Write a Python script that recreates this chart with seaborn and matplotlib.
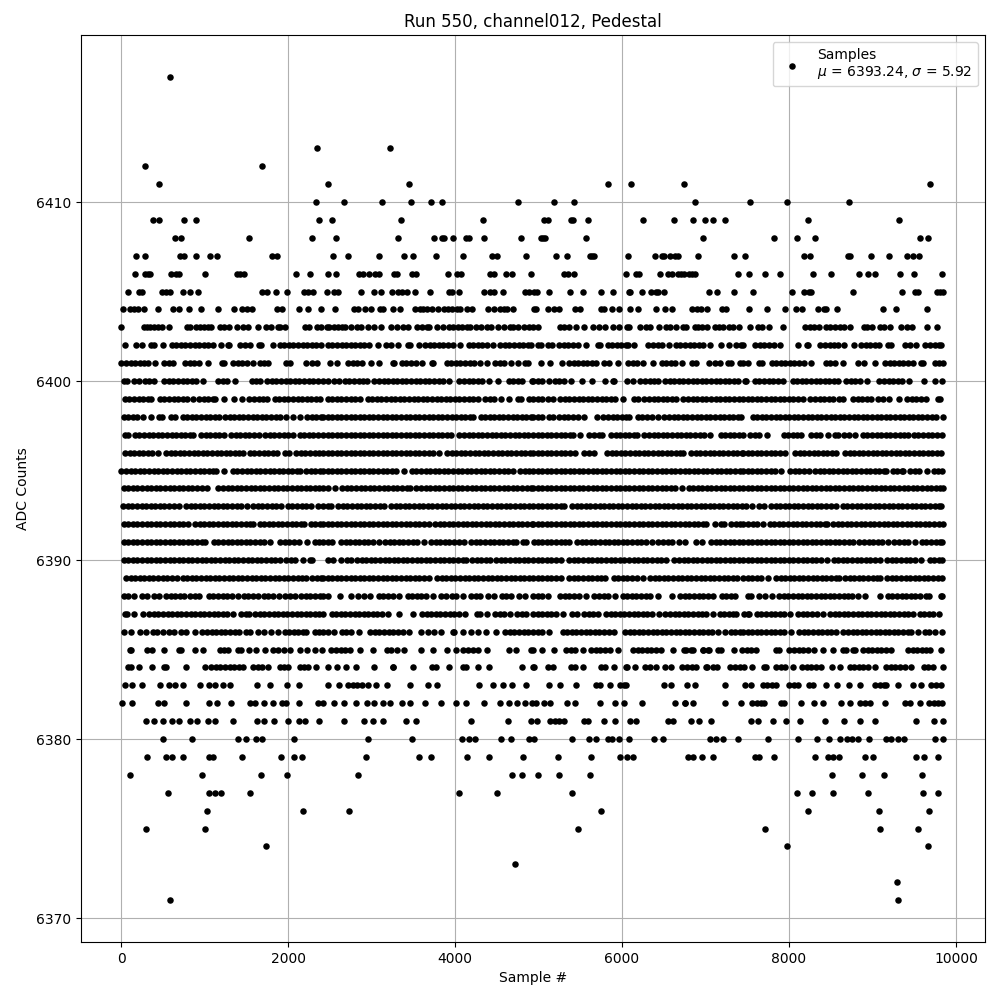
import pandas as pd
import seaborn as sns
import matplotlib.pyplot as plt

# Sample numbers, one list per ADC level
samples_6417 = [581]
samples_6413 = [2345, 3221]
samples_6412 = [281, 1685]
samples_6411 = [449, 2477, 3453, 5829, 6105, 6741, 9687]
samples_6410 = [2333, 2669, 3125, 3477, 3717, 3849, 4749, 5181, 5421, 6870, 7527, 7971, 8715]
samples_6409 = [377, 449, 749, 893, 2369, 2525, 3355, 4329, 5061, 5109, 5385, 5409, 5589, 6249, 6621, 6846, 6990, 7095, 7239, 8223, 9315]
samples_6408 = [641, 713, 1529, 2285, 2573, 3313, 3753, 3849, 3873, 3981, 4137, 4161, 4341, 4785, 5025, 5049, 5073, 5565, 6966, 7815, 8091, 8307, 9567, 9663]
samples_6407 = [173, 281, 701, 749, 893, 1061, 1145, 1805, 1865, 2537, 2717, 3089, 3393, 3501, 3777, 4101, 4437, 4497, 4845, 5205, 5337, 5613, 5637, 5661, 6069, 6393, 6477, 6501, 6573, 6633, 6669, 6906, 7335, 7467, 8175, 8247, 8703, 8727, 8979, 9195, 9411, 9483, 9555]
samples_6406 = [161, 281, 321, 345, 593, 653, 689, 1001, 1385, 1429, 1469, 2093, 2261, 2477, 2573, 2849, 2897, 2969, 3041, 3089, 3265, 3305, 3481, 3533, 3921, 4029, 4077, 4413, 4461, 4605, 4677, 4905, 5301, 5349, 5421, 6045, 6165, 6201, 6453, 6549, 6597, 6669, 6709, 6741, 6801, 6841, 6873, 7383, 7515, 7707, 7887, 8283, 8499, 8835, 8943, 9027, 9327, 9495, 9831]
samples_6405 = [77, 209, 249, 485, 541, 581, 737, 821, 917, 1685, 1745, 1853, 1985, 2189, 2241, 2301, 2465, 2549, 2597, 2873, 3029, 3109, 3245, 3321, 3361, 3429, 3525, 3705, 3933, 3969, 4053, 4341, 4421, 4469, 4569, 4833, 4881, 4941, 4981, 5121, 5373, 5529, 5745, 5889, 6081, 6101, 6237, 6345, 6405, 6429, 6501, 7044, 7143, 7335, 7563, 8031, 8175, 8235, 8259, 8763, 9351, 9507, 9543, 9771, 9807, 9840]
samples_6404 = [29, 109, 149, 197, 269, 437, 617, 689, 809, 953, 1157, 1349, 1445, 1509, 1565, 1865, 1925, 2129, 2233, 2393, 2561, 2789, 2841, 2921, 2993, 3101, 3141, 3253, 3345, 3521, 3581, 3621, 3669, 3721, 3801, 3873, 3921, 3961, 4021, 4061, 4149, 4197, 4389, 4461, 4533, 4581, 4621, 4689, 4941, 4969, 5109, 5189, 5241, 5433, 5493, 5745, 5781, 5877, 5961, 6093, 6189, 6405, 6513, 6597, 6843, 6895, 6943, 7023, 7203, 7243, 7515, 7731, 7947, 8079, 8151, 8343, 8415, 8443, 8571, 9123, 9279, 9651]
samples_6403 = [5, 269, 309, 349, 389, 437, 485, 569, 785, 829, 893, 941, 989, 1037, 1077, 1181, 1229, 1289, 1385, 1457, 1517, 1637, 1733, 1797, 1877, 1901, 1969, 2201, 2249, 2345, 2397, 2461, 2489, 2549, 2597, 2649, 2677, 2753, 2825, 2869, 2957, 3029, 3113, 3237, 3309, 3373, 3441, 3549, 3601, 3661, 3693, 3789, 3861, 3933, 3981, 4041, 4081, 4141, 4181, 4253, 4309, 4381, 4433, 4509, 4581, 4653, 4689, 4757, 4829, 4881, 4929, 4989, 5253, 5301, 5369, 5445, 5541, 5649, 5721, 5793, 5889, 5961, 6057, 6081, 6213, 6281, 6333, 6441, 6525, 6573, 6645, 6735, 6769, 6875, 6915, 6955, 7023, 7115, 7167, 7215, 7275, 7327, 7395, 7527, 7627, 7675, 7759, 7923, 8187, 8255, 8295, 8355, 8443, 8495, 8555, 8615, 8655, 8735, 8895, 8935, 8991, 9087, 9135, 9207, 9343, 9415, 9475, 9651, 9775]
samples_6402 = [52, 180, 256, 358, 398, 500, 606, 660, 715, 770, 825, 880, 935, 990, 1045, 1098, 1192, 1278, 1298, 1430, 1485, 1546, 1646, 1678, 1816, 1898, 1955, 2010, 2065, 2120, 2175, 2230, 2285, 2340, 2395, 2473, 2530, 2585, 2640, 2695, 2750, 2805, 2860, 2915, 2970, 3073, 3173, 3230, 3321, 3441, 3461, 3563, 3641, 3695, 3750, 3805, 3860, 3915, 3970, 4061, 4161, 4215, 4270, 4325, 4380, 4453, 4541, 4595, 4650, 4705, 4760, 4815, 4870, 4913, 4988, 5028, 5116, 5160, 5248, 5300, 5355, 5410, 5468, 5574, 5708, 5736, 5828, 5880, 5935, 5990, 6045, 6068, 6142, 6316, 6370, 6425, 6480, 6560, 6648, 6700, 6755, 6810, 6865, 6920, 6975, 7056, 7190, 7278, 7368, 7420, 7448, 7591, 7650, 7705, 7760, 7815, 7891, 8113, 8215, 8227, 8375, 8430, 8485, 8540, 8583, 8657, 8781, 8863, 8920, 8975, 9030, 9075, 9183, 9223, 9391, 9445, 9523, 9631, 9690, 9745, 9800, 9823]
samples_6401 = [5, 60, 115, 170, 225, 280, 318, 408, 518, 570, 626, 766, 820, 875, 930, 1036, 1206, 1238, 1338, 1395, 1450, 1505, 1578, 1658, 1712, 1758, 1978, 2018, 2216, 2288, 2344, 2503, 2583, 2721, 2775, 2830, 2885, 2995, 3095, 3261, 3273, 3361, 3415, 3470, 3533, 3603, 3721, 3741, 3901, 3955, 4010, 4065, 4120, 4175, 4230, 4301, 4383, 4481, 4535, 4590, 4673, 4755, 4833, 4873, 5028, 5138, 5278, 5368, 5420, 5475, 5530, 5585, 5640, 5688, 5780, 5848, 5946, 6076, 6130, 6185, 6256, 6370, 6476, 6530, 6585, 6640, 6720, 6840, 6888, 7038, 7110, 7170, 7268, 7308, 7408, 7448, 7503, 7635, 7675, 7791, 7845, 7900, 7955, 8010, 8065, 8120, 8175, 8263, 8443, 8495, 8550, 8643, 8823, 8903, 9033, 9151, 9205, 9260, 9315, 9370, 9425, 9483, 9583, 9603, 9751, 9800, 9840]
samples_6400 = [38, 66, 158, 210, 286, 340, 398, 518, 572, 627, 682, 737, 792, 847, 902, 978, 1158, 1215, 1270, 1370, 1566, 1620, 1658, 1750, 1805, 1860, 1915, 1970, 2025, 2080, 2135, 2190, 2245, 2300, 2355, 2418, 2473, 2545, 2605, 2681, 2735, 2790, 2845, 2900, 2941, 3033, 3088, 3143, 3198, 3253, 3308, 3363, 3418, 3473, 3528, 3583, 3638, 3693, 3748, 3803, 3858, 3925, 4053, 4108, 4163, 4218, 4273, 4328, 4401, 4511, 4641, 4696, 4751, 4805, 4921, 4933, 4988, 5043, 5120, 5196, 5250, 5305, 5388, 5518, 5646, 5798, 5888, 5908, 6060, 6128, 6220, 6275, 6330, 6385, 6428, 6516, 6570, 6625, 6680, 6735, 6790, 6845, 6900, 6955, 7010, 7065, 7120, 7175, 7230, 7285, 7340, 7388, 7470, 7483, 7591, 7645, 7700, 7755, 7810, 7865, 7931, 8043, 8098, 8153, 8208, 8263, 8318, 8373, 8428, 8483, 8538, 8583, 8683, 8738, 8793, 8848, 8931, 9083, 9138, 9193, 9248, 9303, 9358, 9431, 9613, 9753, 9830]
samples_6399 = [46, 100, 155, 210, 265, 320, 358, 466, 520, 575, 630, 685, 740, 795, 858, 938, 992, 1047, 1102, 1130, 1236, 1358, 1450, 1538, 1592, 1647, 1702, 1746, 1838, 1893, 1948, 2003, 2058, 2113, 2168, 2223, 2278, 2333, 2386, 2473, 2528, 2583, 2638, 2693, 2748, 2803, 2861, 2953, 3008, 3063, 3118, 3173, 3228, 3283, 3338, 3393, 3448, 3503, 3558, 3613, 3668, 3723, 3778, 3833, 3888, 3943, 3998, 4053, 4108, 4163, 4218, 4273, 4361, 4416, 4471, 4553, 4651, 4753, 4793, 4885, 4933, 4988, 5043, 5108, 5178, 5260, 5315, 5370, 5425, 5480, 5535, 5590, 5645, 5700, 5755, 5810, 5865, 5920, 6008, 6140, 6188, 6268, 6323, 6378, 6433, 6488, 6543, 6598, 6648, 6736, 6791, 6846, 6901, 6956, 7011, 7066, 7121, 7176, 7231, 7286, 7341, 7396, 7448, 7503, 7558, 7613, 7668, 7723, 7778, 7833, 7888, 7943, 7998, 8053, 8108, 8163, 8255, 8310, 8365, 8420, 8475, 8531, 8603, 8643, 8767, 8822, 8877, 8932, 8979, 9071, 9126, 9203, 9313, 9415, 9470, 9525, 9580, 9643, 9783, 9803]
samples_6398 = [30, 85, 140, 195, 258, 360, 458, 490, 598, 650, 738, 793, 848, 903, 958, 1013, 1068, 1123, 1170, 1246, 1301, 1356, 1411, 1466, 1521, 1576, 1631, 1686, 1741, 1796, 1851, 1906, 1978, 2058, 2138, 2226, 2281, 2336, 2391, 2418, 2473, 2528, 2583, 2638, 2693, 2748, 2803, 2858, 2913, 2968, 3023, 3078, 3133, 3188, 3243, 3298, 3353, 3408, 3463, 3518, 3573, 3628, 3683, 3738, 3793, 3848, 3903, 3958, 4013, 4068, 4123, 4178, 4213, 4305, 4360, 4415, 4470, 4525, 4580, 4635, 4690, 4745, 4800, 4855, 4910, 4933, 4988, 5040, 5120, 5168, 5248, 5303, 5358, 5413, 5468, 5540, 5706, 5776, 5831, 5886, 5941, 5996, 6051, 6080, 6188, 6243, 6298, 6353, 6428, 6508, 6563, 6618, 6673, 6728, 6783, 6838, 6893, 6948, 7003, 7058, 7113, 7168, 7223, 7278, 7333, 7388, 7428, 7563, 7618, 7673, 7728, 7783, 7838, 7893, 7948, 8003, 8058, 8113, 8168, 8223, 8278, 8333, 8388, 8443, 8498, 8553, 8608, 8663, 8718, 8773, 8828, 8883, 8938, 8993, 9048, 9103, 9158, 9213, 9268, 9323, 9378, 9433, 9488, 9543, 9598, 9653, 9708, 9755, 9838]
samples_6397 = [46, 78, 166, 220, 275, 330, 385, 440, 495, 550, 605, 660, 715, 770, 825, 858, 958, 1013, 1068, 1123, 1178, 1238, 1318, 1373, 1428, 1483, 1538, 1593, 1650, 1726, 1781, 1836, 1891, 1946, 2001, 2058, 2138, 2193, 2248, 2303, 2358, 2418, 2473, 2528, 2583, 2638, 2693, 2748, 2803, 2858, 2913, 2968, 3023, 3078, 3133, 3188, 3243, 3298, 3353, 3408, 3463, 3518, 3573, 3628, 3683, 3738, 3793, 3848, 3903, 3953, 4053, 4108, 4163, 4218, 4273, 4328, 4383, 4438, 4493, 4548, 4603, 4658, 4713, 4768, 4823, 4878, 4933, 4988, 5043, 5098, 5153, 5208, 5263, 5318, 5373, 5416, 5502, 5608, 5663, 5718, 5756, 5868, 5923, 5978, 6033, 6088, 6143, 6176, 6268, 6323, 6378, 6433, 6488, 6543, 6598, 6653, 6708, 6763, 6818, 6873, 6928, 6983, 7048, 7180, 7235, 7290, 7345, 7400, 7448, 7535, 7590, 7645, 7731, 7935, 7990, 8045, 8100, 8143, 8263, 8318, 8373, 8463, 8551, 8583, 8663, 8718, 8795, 8883, 8938, 8993, 9048, 9103, 9158, 9213, 9268, 9323, 9378, 9423, 9495, 9550, 9605, 9660, 9715, 9770, 9835]
samples_6396 = [46, 101, 156, 211, 266, 321, 376, 446, 538, 593, 648, 703, 758, 813, 868, 923, 978, 1033, 1088, 1143, 1198, 1253, 1308, 1363, 1418, 1458, 1542, 1597, 1652, 1707, 1762, 1817, 1872, 1958, 2016, 2098, 2153, 2208, 2263, 2318, 2373, 2418, 2473, 2528, 2583, 2638, 2693, 2748, 2803, 2858, 2913, 2968, 3023, 3078, 3133, 3188, 3243, 3298, 3353, 3408, 3463, 3518, 3573, 3628, 3683, 3738, 3805, 3905, 3960, 4015, 4070, 4125, 4180, 4235, 4290, 4345, 4400, 4455, 4510, 4565, 4620, 4675, 4730, 4785, 4840, 4895, 4933, 4988, 5043, 5098, 5153, 5208, 5263, 5318, 5373, 5440, 5548, 5603, 5668, 5820, 5875, 5930, 5985, 6040, 6095, 6150, 6205, 6260, 6315, 6370, 6425, 6480, 6535, 6590, 6645, 6700, 6736, 6828, 6883, 6938, 6993, 7048, 7103, 7158, 7213, 7268, 7323, 7378, 7433, 7448, 7503, 7558, 7613, 7668, 7723, 7778, 7833, 7888, 7955, 8075, 8130, 8185, 8240, 8295, 8350, 8405, 8460, 8515, 8563, 8671, 8726, 8781, 8836, 8891, 8946, 9001, 9056, 9111, 9166, 9221, 9276, 9331, 9386, 9441, 9496, 9551, 9606, 9661, 9716, 9771, 9826]
samples_6395 = [5, 60, 115, 170, 225, 280, 335, 390, 445, 500, 555, 610, 665, 720, 775, 830, 885, 940, 995, 1050, 1105, 1138, 1228, 1338, 1393, 1448, 1503, 1558, 1613, 1668, 1723, 1778, 1833, 1888, 1943, 1998, 2053, 2108, 2138, 2218, 2273, 2328, 2383, 2418, 2473, 2528, 2583, 2638, 2693, 2748, 2803, 2858, 2913, 2968, 3023, 3078, 3133, 3188, 3243, 3298, 3393, 3481, 3536, 3591, 3646, 3701, 3756, 3811, 3866, 3921, 3976, 4031, 4086, 4141, 4196, 4251, 4306, 4361, 4416, 4471, 4526, 4581, 4636, 4693, 4781, 4836, 4891, 4933, 4988, 5043, 5098, 5153, 5208, 5263, 5318, 5373, 5428, 5483, 5538, 5593, 5648, 5703, 5758, 5813, 5868, 5923, 5978, 6033, 6088, 6143, 6198, 6253, 6308, 6363, 6418, 6473, 6528, 6583, 6638, 6693, 6748, 6803, 6858, 6913, 6968, 7023, 7078, 7133, 7188, 7243, 7298, 7353, 7408, 7448, 7503, 7558, 7613, 7668, 7723, 7778, 7833, 7903, 8011, 8066, 8121, 8176, 8235, 8311, 8366, 8421, 8476, 8531, 8586, 8641, 8696, 8751, 8806, 8861, 8916, 8971, 9026, 9081, 9136, 9163, 9243, 9298, 9353, 9363, 9451, 9506, 9561, 9651, 9731, 9786, 9831]
samples_6394 = [30, 85, 140, 195, 250, 305, 360, 415, 470, 525, 580, 635, 690, 745, 800, 855, 910, 965, 1026, 1166, 1221, 1276, 1331, 1386, 1441, 1496, 1551, 1606, 1661, 1716, 1771, 1826, 1881, 1936, 1991, 2046, 2101, 2156, 2211, 2266, 2321, 2376, 2418, 2473, 2565, 2649, 2704, 2759, 2814, 2869, 2924, 2979, 3034, 3089, 3144, 3199, 3254, 3309, 3364, 3419, 3461, 3537, 3592, 3647, 3702, 3757, 3812, 3867, 3922, 3977, 4032, 4087, 4142, 4197, 4252, 4307, 4362, 4417, 4472, 4527, 4582, 4637, 4692, 4747, 4802, 4857, 4912, 4933, 4988, 5043, 5098, 5153, 5208, 5263, 5318, 5373, 5428, 5483, 5538, 5593, 5648, 5703, 5758, 5813, 5868, 5923, 5978, 6033, 6088, 6143, 6198, 6248, 6308, 6363, 6418, 6473, 6528, 6583, 6638, 6716, 6796, 6851, 6906, 6961, 7016, 7071, 7126, 7181, 7236, 7291, 7346, 7401, 7448, 7503, 7558, 7613, 7668, 7723, 7778, 7833, 7888, 7943, 7998, 8053, 8108, 8163, 8218, 8273, 8328, 8383, 8438, 8493, 8548, 8603, 8658, 8713, 8768, 8823, 8878, 8933, 8988, 9043, 9098, 9153, 9208, 9263, 9318, 9373, 9428, 9483, 9538, 9593, 9648, 9703, 9758, 9813, 9840]
samples_6393 = [25, 80, 135, 190, 245, 300, 355, 410, 465, 520, 575, 630, 698, 778, 833, 888, 943, 998, 1053, 1108, 1163, 1218, 1273, 1328, 1383, 1438, 1506, 1582, 1637, 1692, 1747, 1802, 1857, 1918, 1998, 2053, 2108, 2163, 2218, 2278, 2358, 2418, 2473, 2513, 2601, 2656, 2711, 2766, 2821, 2876, 2931, 2986, 3041, 3096, 3145, 3233, 3288, 3343, 3398, 3453, 3508, 3563, 3618, 3673, 3728, 3783, 3838, 3893, 3948, 4003, 4058, 4113, 4168, 4223, 4278, 4333, 4388, 4443, 4498, 4553, 4608, 4663, 4718, 4773, 4828, 4883, 4933, 4988, 5043, 5098, 5153, 5208, 5263, 5308, 5400, 5455, 5510, 5565, 5620, 5675, 5730, 5785, 5840, 5895, 5950, 6005, 6060, 6115, 6170, 6225, 6280, 6335, 6390, 6445, 6500, 6555, 6610, 6665, 6720, 6775, 6830, 6885, 6940, 6995, 7050, 7105, 7160, 7215, 7270, 7325, 7380, 7435, 7485, 7553, 7643, 7703, 7783, 7838, 7893, 7948, 8003, 8058, 8113, 8168, 8223, 8278, 8333, 8388, 8443, 8498, 8563, 8643, 8698, 8753, 8808, 8863, 8918, 8973, 9028, 9083, 9138, 9193, 9248, 9303, 9358, 9413, 9468, 9523, 9578, 9633, 9688, 9743, 9798, 9815]
samples_6392 = [30, 85, 140, 195, 250, 305, 360, 415, 470, 525, 580, 635, 690, 745, 798, 886, 941, 996, 1051, 1106, 1161, 1216, 1271, 1326, 1381, 1436, 1491, 1546, 1578, 1658, 1713, 1768, 1823, 1878, 1933, 1988, 2043, 2098, 2153, 2190, 2270, 2325, 2380, 2418, 2473, 2528, 2583, 2638, 2693, 2748, 2803, 2858, 2913, 2968, 3023, 3078, 3133, 3188, 3243, 3298, 3353, 3408, 3463, 3518, 3573, 3628, 3685, 3761, 3816, 3871, 3926, 3981, 4036, 4091, 4146, 4201, 4256, 4311, 4366, 4421, 4476, 4531, 4586, 4641, 4696, 4751, 4806, 4861, 4916, 4933, 4988, 5043, 5098, 5153, 5208, 5263, 5318, 5373, 5428, 5483, 5538, 5593, 5648, 5703, 5758, 5813, 5868, 5923, 5978, 6033, 6088, 6143, 6198, 6253, 6308, 6363, 6418, 6473, 6528, 6583, 6638, 6693, 6748, 6803, 6858, 6913, 6968, 7008, 7110, 7188, 7216, 7308, 7363, 7418, 7448, 7503, 7563, 7618, 7691, 7767, 7822, 7877, 7932, 7987, 8042, 8097, 8152, 8207, 8262, 8317, 8372, 8427, 8451, 8527, 8582, 8637, 8692, 8747, 8802, 8857, 8912, 8967, 9022, 9077, 9132, 9187, 9242, 9297, 9352, 9407, 9462, 9517, 9572, 9627, 9682, 9737, 9792, 9840]
samples_6391 = [30, 85, 140, 195, 250, 305, 360, 415, 470, 525, 580, 635, 690, 745, 800, 855, 910, 965, 1010, 1110, 1165, 1220, 1275, 1330, 1385, 1440, 1495, 1550, 1605, 1660, 1706, 1788, 1906, 1961, 2016, 2071, 2130, 2228, 2318, 2373, 2418, 2473, 2525, 2633, 2688, 2743, 2798, 2853, 2908, 2963, 3018, 3085, 3161, 3216, 3271, 3326, 3381, 3436, 3491, 3546, 3633, 3713, 3768, 3823, 3878, 3933, 3988, 4043, 4113, 4193, 4248, 4303, 4358, 4413, 4468, 4523, 4578, 4633, 4688, 4725, 4813, 4853, 4941, 4988, 5043, 5098, 5153, 5208, 5263, 5318, 5368, 5460, 5515, 5570, 5625, 5680, 5735, 5790, 5845, 5900, 5955, 6010, 6065, 6120, 6175, 6230, 6285, 6360, 6436, 6491, 6546, 6601, 6680, 6754, 6888, 6956, 7068, 7123, 7178, 7233, 7288, 7343, 7398, 7448, 7503, 7558, 7613, 7668, 7723, 7778, 7833, 7888, 7943, 7998, 8053, 8108, 8163, 8218, 8273, 8328, 8383, 8438, 8493, 8548, 8603, 8658, 8713, 8763, 8843, 8898, 8953, 9008, 9063, 9118, 9183, 9263, 9318, 9373, 9428, 9503, 9591, 9646, 9701, 9756, 9811, 9835]
samples_6390 = [30, 85, 140, 195, 250, 305, 360, 415, 470, 525, 580, 635, 690, 745, 800, 855, 910, 965, 1020, 1075, 1130, 1185, 1240, 1295, 1350, 1405, 1460, 1515, 1570, 1625, 1680, 1735, 1790, 1845, 1898, 1978, 2033, 2088, 2178, 2258, 2286, 2473, 2541, 2633, 2700, 2753, 2825, 2880, 2935, 2990, 3045, 3100, 3155, 3210, 3265, 3320, 3375, 3430, 3485, 3540, 3595, 3650, 3705, 3760, 3815, 3870, 3925, 3980, 4035, 4090, 4133, 4205, 4260, 4315, 4370, 4413, 4493, 4548, 4603, 4658, 4713, 4768, 4823, 4878, 4933, 4988, 5043, 5098, 5153, 5208, 5268, 5368, 5423, 5478, 5533, 5588, 5643, 5698, 5753, 5808, 5863, 5918, 5973, 6028, 6083, 6138, 6193, 6248, 6303, 6358, 6413, 6468, 6528, 6628, 6683, 6738, 6793, 6848, 6903, 6958, 7013, 7068, 7123, 7178, 7233, 7288, 7343, 7398, 7448, 7503, 7558, 7613, 7668, 7723, 7778, 7833, 7888, 7943, 7998, 8053, 8108, 8163, 8218, 8273, 8328, 8383, 8451, 8535, 8590, 8645, 8700, 8755, 8810, 8865, 8920, 8975, 9030, 9091, 9175, 9230, 9285, 9340, 9395, 9450, 9503, 9581, 9683, 9738, 9793, 9830]
samples_6389 = [58, 113, 168, 223, 278, 333, 388, 443, 498, 553, 608, 666, 738, 793, 848, 903, 958, 1013, 1068, 1123, 1178, 1233, 1288, 1343, 1398, 1453, 1508, 1563, 1618, 1673, 1728, 1783, 1838, 1893, 1948, 2003, 2058, 2113, 2168, 2218, 2286, 2341, 2396, 2418, 2473, 2528, 2583, 2638, 2693, 2748, 2803, 2858, 2913, 2968, 3023, 3078, 3133, 3188, 3243, 3298, 3353, 3408, 3463, 3518, 3573, 3628, 3685, 3785, 3840, 3895, 3950, 4005, 4060, 4115, 4170, 4225, 4280, 4335, 4390, 4445, 4500, 4555, 4610, 4665, 4720, 4775, 4830, 4885, 4933, 4988, 5043, 5098, 5153, 5208, 5268, 5368, 5423, 5478, 5533, 5588, 5643, 5698, 5753, 5800, 5900, 5955, 6010, 6065, 6120, 6175, 6248, 6336, 6391, 6446, 6501, 6556, 6611, 6666, 6721, 6776, 6831, 6886, 6941, 6996, 7051, 7106, 7161, 7216, 7271, 7326, 7381, 7448, 7503, 7558, 7613, 7668, 7743, 7843, 7898, 7953, 8008, 8063, 8118, 8173, 8228, 8283, 8338, 8393, 8448, 8503, 8558, 8595, 8671, 8726, 8781, 8836, 8891, 8946, 9001, 9056, 9091, 9175, 9230, 9285, 9340, 9395, 9450, 9505, 9560, 9615, 9670, 9725, 9780, 9835]
samples_6388 = [30, 78, 150, 250, 316, 390, 458, 538, 593, 648, 703, 758, 830, 885, 938, 1050, 1105, 1160, 1215, 1270, 1325, 1398, 1470, 1525, 1580, 1638, 1710, 1765, 1820, 1886, 1966, 2021, 2078, 2158, 2213, 2268, 2323, 2378, 2418, 2475, 2623, 2753, 2833, 2915, 2983, 3085, 3140, 3195, 3253, 3331, 3433, 3488, 3543, 3598, 3653, 3733, 3833, 3893, 3961, 4016, 4093, 4193, 4248, 4303, 4393, 4463, 4561, 4616, 4671, 4765, 4835, 4933, 4988, 5043, 5108, 5260, 5315, 5370, 5425, 5488, 5570, 5668, 5723, 5778, 5833, 5920, 6008, 6063, 6118, 6173, 6228, 6283, 6338, 6428, 6594, 6696, 6751, 6806, 6861, 6916, 6971, 7026, 7088, 7196, 7251, 7306, 7348, 7503, 7543, 7635, 7715, 7793, 7883, 7938, 7993, 8048, 8103, 8158, 8213, 8268, 8323, 8378, 8433, 8488, 8543, 8598, 8653, 8708, 8755, 8825, 8913, 9085, 9183, 9238, 9293, 9348, 9403, 9458, 9513, 9563, 9643, 9675, 9815, 9835]
samples_6387 = [46, 66, 158, 258, 338, 393, 448, 503, 558, 613, 668, 723, 778, 833, 888, 943, 998, 1053, 1108, 1163, 1218, 1273, 1346, 1438, 1493, 1530, 1606, 1661, 1716, 1771, 1826, 1881, 1936, 1991, 2046, 2101, 2156, 2211, 2266, 2321, 2376, 2418, 2521, 2576, 2631, 2686, 2741, 2796, 2851, 2906, 2961, 3016, 3071, 3126, 3193, 3323, 3491, 3605, 3660, 3715, 3770, 3825, 3880, 3935, 3990, 4045, 4115, 4265, 4301, 4383, 4481, 4536, 4591, 4653, 4745, 4800, 4855, 4933, 4988, 5043, 5098, 5153, 5208, 5296, 5400, 5456, 5548, 5603, 5658, 5708, 5808, 5863, 5918, 5973, 6028, 6083, 6138, 6193, 6248, 6303, 6358, 6440, 6520, 6575, 6630, 6685, 6740, 6795, 6850, 6905, 6960, 7008, 7090, 7168, 7223, 7278, 7333, 7368, 7460, 7503, 7523, 7615, 7670, 7725, 7780, 7835, 7890, 7945, 8011, 8111, 8166, 8221, 8276, 8331, 8403, 8491, 8546, 8601, 8656, 8711, 8766, 8821, 8876, 8931, 8986, 9041, 9096, 9151, 9206, 9261, 9316, 9371, 9426, 9483, 9563, 9618, 9673, 9728, 9795]
samples_6386 = [30, 118, 226, 298, 378, 433, 498, 578, 633, 718, 780, 880, 974, 1029, 1084, 1139, 1194, 1249, 1304, 1359, 1418, 1498, 1546, 1640, 1708, 1790, 1878, 1958, 2013, 2068, 2123, 2178, 2218, 2318, 2373, 2418, 2473, 2553, 2641, 2696, 2751, 2853, 2985, 3040, 3095, 3150, 3205, 3260, 3315, 3373, 3443, 3593, 3673, 3753, 3833, 3977, 3993, 4093, 4193, 4273, 4373, 4495, 4601, 4656, 4711, 4766, 4821, 4876, 4933, 4988, 5043, 5128, 5288, 5343, 5398, 5453, 5508, 5563, 5618, 5673, 5728, 5783, 5838, 5908, 6036, 6091, 6146, 6201, 6256, 6311, 6366, 6421, 6476, 6531, 6586, 6641, 6696, 6751, 6806, 6861, 6916, 6971, 7026, 7081, 7148, 7230, 7300, 7355, 7410, 7448, 7503, 7558, 7613, 7668, 7723, 7778, 7833, 7888, 7943, 8023, 8123, 8178, 8233, 8288, 8343, 8398, 8453, 8508, 8563, 8651, 8706, 8761, 8816, 8871, 8926, 8981, 9036, 9091, 9146, 9201, 9256, 9311, 9366, 9421, 9455, 9541, 9623, 9678, 9743, 9830]
samples_6385 = [107, 119, 307, 367, 509, 699, 719, 889, 979, 1179, 1234, 1279, 1399, 1431, 1529, 1621, 1721, 1819, 1879, 1949, 2021, 2147, 2227, 2321, 2411, 2519, 2574, 2629, 2684, 2739, 2861, 3013, 3179, 3234, 3299, 3393, 3591, 3731, 3901, 4011, 4099, 4154, 4209, 4271, 4377, 4651, 4731, 4911, 4931, 5043, 5191, 5331, 5386, 5441, 5531, 5631, 5686, 5741, 5791, 5861, 5949, 6131, 6186, 6241, 6296, 6351, 6406, 6471, 6613, 6763, 6831, 6971, 7031, 6745, 6845, 6965, 7045, 7145, 7185, 7335, 7437, 7492, 7547, 7605, 7845, 7885, 8005, 8060, 8115, 8170, 8225, 8295, 8405, 8525, 8645, 8685, 8765, 8785, 8885, 8940, 8995, 9050, 9105, 9160, 9225, 9425, 9480, 9535, 9590, 9645, 9685, 9815]
samples_6384 = [79, 119, 209, 365, 519, 539, 777, 1001, 1079, 1134, 1189, 1244, 1299, 1354, 1409, 1459, 1579, 1634, 1689, 1759, 1899, 1954, 1999, 2139, 2194, 2239, 2333, 2479, 2589, 2693, 2813, 3035, 3259, 3251, 3501, 3723, 3771, 3933, 4091, 4131, 4269, 4401, 4797, 4931, 4951, 5111, 5171, 5383, 5438, 5531, 5751, 5791, 5901, 6051, 6063, 6153, 6279, 6334, 6411, 6509, 6581, 6723, 6778, 6833, 6891, 7019, 7005, 7089, 7141, 7297, 7352, 7407, 7462, 7553, 7705, 7725, 7845, 7900, 7955, 8045, 8157, 8212, 8267, 8322, 8385, 8513, 8605, 8725, 8780, 8835, 8890, 8945, 9027, 9165, 9220, 9275, 9330, 9385, 9465, 9613, 9668, 9725, 9840]
samples_6383 = [41, 133, 255, 469, 569, 641, 737, 949, 1051, 1119, 1221, 1309, 1629, 1781, 1993, 2125, 2481, 2609, 2719, 2774, 2829, 2884, 2959, 3049, 3185, 3465, 3681, 3789, 4291, 4457, 4569, 4681, 4845, 5127, 5255, 5445, 5691, 5731, 5855, 5971, 6026, 6051, 6501, 6585, 6777, 6879, 7231, 7475, 7543, 7685, 7740, 7795, 7845, 8005, 8060, 8105, 8245, 8285, 8443, 8575, 8715, 8845, 9033, 9088, 9143, 9165, 9303, 9483, 9579, 9705, 9760, 9815]
samples_6382 = [17, 125, 437, 509, 773, 1053, 1145, 1313, 1539, 1599, 1709, 1817, 1931, 1979, 2129, 2363, 2419, 2549, 2673, 2819, 2945, 3029, 3137, 3221, 3369, 3465, 3645, 3837, 4017, 4137, 4341, 4533, 4641, 4747, 4833, 4923, 4971, 5061, 5133, 5337, 5433, 5733, 5915, 6023, 6241, 6633, 6755, 6849, 6755, 7239, 7419, 7557, 7612, 7667, 7705, 7905, 7945, 8139, 8295, 8411, 8625, 8725, 8853, 8908, 8965, 9145, 9385, 9445, 9567, 9677, 9732, 9787, 9835]
samples_6381 = [299, 389, 497, 613, 689, 821, 909, 1037, 1121, 1337, 1625, 1709, 1829, 1999, 2125, 2197, 2373, 2669, 2909, 3021, 3137, 3417, 3537, 4185, 4629, 4905, 4977, 5139, 5194, 5241, 5301, 5539, 5594, 5789, 5913, 6101, 6169, 6549, 6613, 6821, 6921, 7071, 7539, 7623, 7805, 7965, 8129, 8427, 8655, 8855, 9035, 9519, 9735, 9840]
samples_6380 = [497, 845, 1397, 1493, 1613, 1685, 2069, 2957, 3489, 4089, 4161, 4233, 4545, 4665, 4881, 4941, 5397, 5601, 5685, 5829, 5881, 5965, 6089, 6381, 6489, 7053, 7127, 7215, 7391, 7743, 8103, 8331, 8475, 8607, 8695, 8751, 8823, 8955, 9167, 9223, 9303, 9375, 9751, 9843]
samples_6379 = [305, 533, 605, 737, 1049, 1101, 1445, 1913, 2069, 2165, 2933, 3573, 3717, 4149, 4401, 4809, 5229, 5625, 5973, 6057, 6129, 6786, 6848, 6956, 7091, 7595, 7635, 7815, 8307, 8463, 8529, 8595, 8907, 9003, 9519, 9615, 9783]
samples_6378 = [101, 965, 1673, 1985, 2837, 4677, 4797, 4989, 5241, 5613, 8511, 8875, 9135, 9595]
samples_6377 = [557, 1049, 1121, 1193, 1541, 4053, 4497, 5397, 8091, 8271, 8523, 8943, 9603, 9783]
samples_6376 = [1025, 2177, 2729, 5745, 8223, 9075, 9675]
samples_6375 = [293, 1001, 5469, 7707, 9087, 9543]
samples_6374 = [1733, 7971, 9663]
samples_6373 = [4713]
samples_6372 = [9291]
samples_6371 = [581, 9303]

adc_levels = {
    6417: samples_6417, 6413: samples_6413, 6412: samples_6412, 6411: samples_6411,
    6410: samples_6410, 6409: samples_6409, 6408: samples_6408, 6407: samples_6407,
    6406: samples_6406, 6405: samples_6405, 6404: samples_6404, 6403: samples_6403,
    6402: samples_6402, 6401: samples_6401, 6400: samples_6400, 6399: samples_6399,
    6398: samples_6398, 6397: samples_6397, 6396: samples_6396, 6395: samples_6395,
    6394: samples_6394, 6393: samples_6393, 6392: samples_6392, 6391: samples_6391,
    6390: samples_6390, 6389: samples_6389, 6388: samples_6388, 6387: samples_6387,
    6386: samples_6386, 6385: samples_6385, 6384: samples_6384, 6383: samples_6383,
    6382: samples_6382, 6381: samples_6381, 6380: samples_6380, 6379: samples_6379,
    6378: samples_6378, 6377: samples_6377, 6376: samples_6376, 6375: samples_6375,
    6374: samples_6374, 6373: samples_6373, 6372: samples_6372, 6371: samples_6371,
}

rows = [(s, level) for level, xs in adc_levels.items() for s in xs]
df = pd.DataFrame(rows, columns=["sample", "adc"])

fig, ax = plt.subplots(figsize=(10, 10))
sns.scatterplot(data=df, x="sample", y="adc", color="black", s=22, linewidth=0,
                zorder=2, label="Samples\n$\\mu$ = 6393.24, $\\sigma$ = 5.92", ax=ax)

ax.set_xlim(-480, 10347)
ax.set_ylim(6368.66, 6419.33)
ax.ticklabel_format(axis="y", useOffset=False)
ax.grid(True)
ax.set_title("Run 550, channel012, Pedestal")
ax.set_xlabel("Sample #")
ax.set_ylabel("ADC Counts")
ax.legend(loc="upper right")

# same margins as the original figure
fig.subplots_adjust(left=0.081, right=0.985, top=0.965, bottom=0.058)
plt.savefig("out.png", dpi=100)
